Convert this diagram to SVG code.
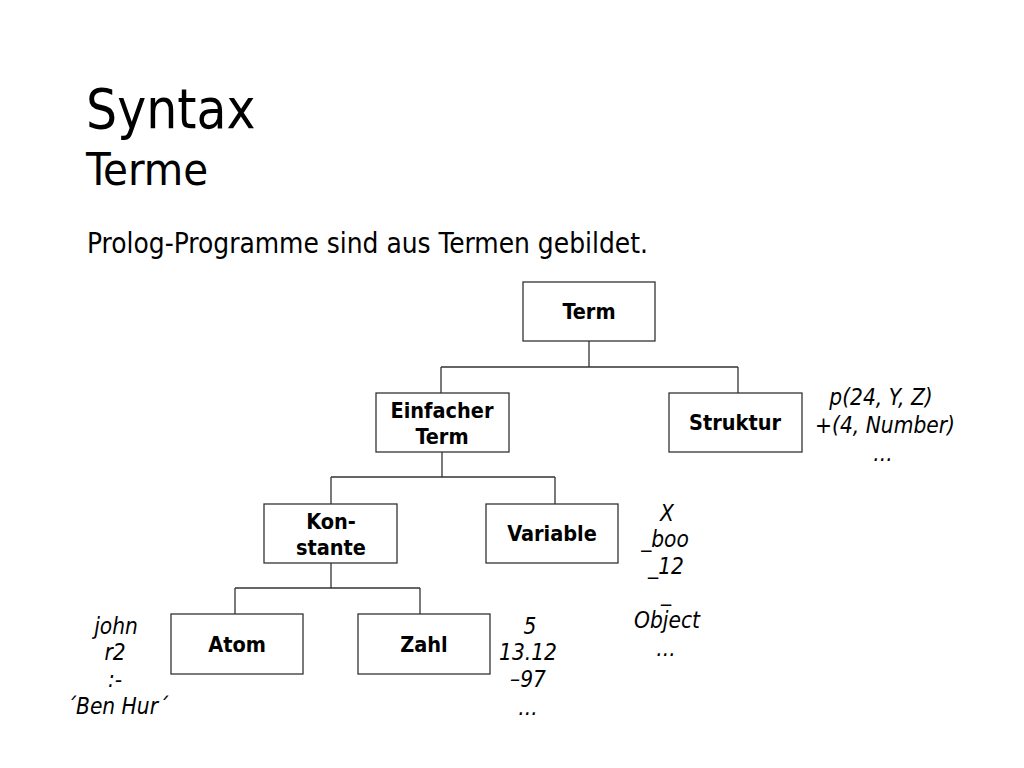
<svg xmlns="http://www.w3.org/2000/svg" width="1024" height="768" viewBox="0 0 1024 768">
<style>
.box{fill:#fff;stroke:#333;stroke-width:1.3}
.lbl{font-family:"DejaVu Sans Condensed","DejaVu Sans",sans-serif;font-stretch:condensed;font-weight:bold;font-size:21.5px;text-anchor:middle;fill:#000}
.ann{font-family:"DejaVu Sans Condensed","DejaVu Sans",sans-serif;font-stretch:condensed;font-style:italic;font-size:22.5px;text-anchor:middle;fill:#000}
.conn{fill:none;stroke:#333;stroke-width:1.3}
.ttl{font-family:"DejaVu Sans Condensed","DejaVu Sans",sans-serif;font-stretch:condensed;fill:#000}
</style>
<rect width="1024" height="768" fill="#fff"/>
<text class="ttl" x="86" y="128" font-size="54.5">Syntax</text>
<text class="ttl" x="86" y="185" font-size="45">Terme</text>
<text class="ttl" x="87" y="253" font-size="27.8">Prolog-Programme sind aus Termen gebildet.</text>
<g id="connectors">
<path class="conn" d="M589 341V367M441 367H738M441 367V393M738 367V393"/>
<path class="conn" d="M442 452V477M331 477H555M331 477V504M555 477V504"/>
<path class="conn" d="M331 563V588M235 588H420M235 588V614M420 588V614"/>
</g>
<g id="term"><rect class="box" x="523" y="282" width="132" height="59"/><text class="lbl" x="589" y="319">Term</text></g>
<g id="einfacher"><rect class="box" x="376" y="393" width="133" height="59"/><text class="lbl" x="442" y="418">Einfacher</text><text class="lbl" x="442" y="444">Term</text></g>
<g id="struktur"><rect class="box" x="669" y="393" width="133" height="59"/><text class="lbl" x="735" y="430">Struktur</text></g>
<g id="konstante"><rect class="box" x="264" y="504" width="133" height="59"/><text class="lbl" x="331" y="529">Kon-</text><text class="lbl" x="331" y="555">stante</text></g>
<g id="variable"><rect class="box" x="486" y="504" width="132" height="59"/><text class="lbl" x="552" y="541">Variable</text></g>
<g id="atom"><rect class="box" x="171" y="614" width="132" height="60"/><text class="lbl" x="237" y="652">Atom</text></g>
<g id="zahl"><rect class="box" x="358" y="614" width="132" height="60"/><text class="lbl" x="424" y="652">Zahl</text></g>
<g id="ann-struktur">
<text class="ann" x="881" y="405">p(24, Y, Z)</text>
<text class="ann" x="885" y="433">+(4, Number)</text>
<text class="ann" x="883" y="461">...</text>
</g>
<g id="ann-variable">
<text class="ann" x="667" y="521">X</text>
<text class="ann" x="665" y="547">_boo</text>
<text class="ann" x="666" y="574">_12</text>
<text class="ann" x="666" y="601">_</text>
<text class="ann" x="667" y="628">Object</text>
<text class="ann" x="666" y="656">...</text>
</g>
<g id="ann-atom">
<text class="ann" x="116" y="634">john</text>
<text class="ann" x="115" y="660">r2</text>
<text class="ann" x="115" y="687">:-</text>
<text class="ann" x="117" y="714">´Ben Hur´</text>
</g>
<g id="ann-zahl">
<text class="ann" x="530" y="634">5</text>
<text class="ann" x="528" y="660">13.12</text>
<text class="ann" x="528" y="687">–97</text>
<text class="ann" x="528" y="715">...</text>
</g>
</svg>
